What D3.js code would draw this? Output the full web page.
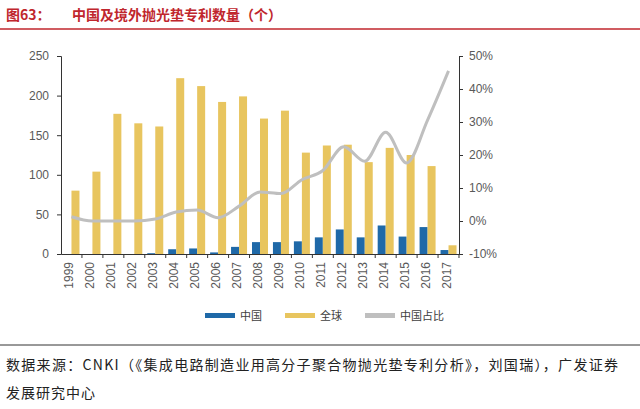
<!DOCTYPE html>
<html lang="zh">
<head>
<meta charset="UTF-8">
<style>
  body { margin: 0; background: #fff; font-family: "Liberation Sans", "Noto Sans CJK SC", sans-serif; }
  .axis text { fill: #595959; font-size: 12px; }
  .axis path, .axis line { stroke: #333; }
</style>
</head>
<body>
<script src="https://d3js.org/d3.v7.min.js"></script>
<script>
const years = ["1999","2000","2001","2002","2003","2004","2005","2006","2007","2008","2009","2010","2011","2012","2013","2014","2015","2016","2017"];
const china = [0,0,0,0,1,6,7,2,9,15,15,16,21,31,21,36,22,34,5];
const global = [80,104,177,165,161,222,212,192,199,171,181,128,137,138,116,134,125,111,11];
const ratio = [1.3,0,0,0,0.6,2.7,3.3,1,4.5,8.8,8.3,12.5,15.3,22.5,18.1,26.9,17.6,30.6,45.5];
const leftTicks = [0,50,100,150,200,250];
const rightTicks = [-10,0,10,20,30,40,50];

const W = 640, H = 409;
const svg = d3.select("body").append("svg").attr("width", W).attr("height", H);
const cjk = '"Noto Sans CJK SC", sans-serif';

// title
svg.append("text").attr("x", 6).attr("y", 20).attr("font-family", cjk)
  .attr("font-size", 14).attr("font-weight", "bold").attr("fill", "#c0262d").text("图63：");
svg.append("text").attr("x", 72).attr("y", 20).attr("font-family", cjk)
  .attr("font-size", 14).attr("font-weight", "bold").attr("fill", "#c0262d").text("中国及境外抛光垫专利数量（个）");
svg.append("line").attr("x1", 0).attr("x2", W).attr("y1", 29).attr("y2", 29)
  .attr("stroke", "#c0262d").attr("stroke-width", 1.5);

const x0 = 61, x1 = 459, yTop = 56, yBot = 254;
const x = d3.scaleBand().domain(years).range([x0, x1]);
const y = d3.scaleLinear().domain([0, 250]).range([yBot, yTop]);
const y2 = d3.scaleLinear().domain([-10, 50]).range([yBot, yTop]);

svg.append("g").attr("class", "axis").attr("transform", `translate(${x0},0)`)
  .call(d3.axisLeft(y).tickValues(leftTicks).tickSize(4).tickPadding(8));
svg.append("g").attr("class", "axis").attr("transform", `translate(${x1},0)`)
  .call(d3.axisRight(y2).tickValues(rightTicks).tickSize(4).tickPadding(6).tickFormat(d => d + "%"));
const xa = svg.append("g").attr("class", "axis").attr("transform", `translate(0,${yBot})`)
  .call(d3.axisBottom(x).tickSize(0).tickSizeOuter(0));
xa.selectAll("text").attr("transform", "rotate(-90)").attr("text-anchor", "end")
  .attr("dx", "-4").attr("dy", "-0.1em").attr("x", -4).attr("y", 0).style("dominant-baseline", "middle");
xa.selectAll(".tick").append("line").attr("x1", x.bandwidth()/2).attr("x2", x.bandwidth()/2).attr("y2", 4).attr("stroke", "#333");

const bw = 8;
svg.append("g").selectAll("rect").data(years).join("rect")
  .attr("x", (d) => x(d) + x.bandwidth()/2 - bw).attr("width", bw)
  .attr("y", (d, i) => y(china[i])).attr("height", (d, i) => yBot - y(china[i]))
  .attr("fill", "#1f69a8");
svg.append("g").selectAll("rect").data(years).join("rect")
  .attr("x", (d) => x(d) + x.bandwidth()/2).attr("width", bw)
  .attr("y", (d, i) => y(global[i])).attr("height", (d, i) => yBot - y(global[i]))
  .attr("fill", "#e8c55f");

svg.append("path").datum(ratio)
  .attr("d", d3.line().x((d, i) => x(years[i]) + x.bandwidth()/2).y(d => y2(d)).curve(d3.curveMonotoneX))
  .attr("fill", "none").attr("stroke", "#bfbfbf").attr("stroke-width", 3);

// legend
const lg = svg.append("g").attr("font-family", cjk).attr("font-size", 11).attr("fill", "#595959");
[["中国", "#1f69a8", 205], ["全球", "#e8c55f", 285], ["中国占比", "#bfbfbf", 365]].forEach(([t, c, lx]) => {
  lg.append("rect").attr("x", lx).attr("y", 313).attr("width", 30).attr("height", 5).attr("fill", c);
  lg.append("text").attr("x", lx + 35).attr("y", 320).attr("fill", "#404040").text(t);
});

// source
svg.append("line").attr("x1", 0).attr("x2", W).attr("y1", 345).attr("y2", 345)
  .attr("stroke", "#333").attr("stroke-width", 1);
svg.append("text").attr("x", 6).attr("y", 370).attr("font-family", cjk).attr("font-size", 14).attr("fill", "#222")
  .attr("textLength", 612).attr("lengthAdjust", "spacing")
  .text("数据来源：CNKI（《集成电路制造业用高分子聚合物抛光垫专利分析》，刘国瑞），广发证券");
svg.append("text").attr("x", 6).attr("y", 398).attr("font-family", cjk).attr("font-size", 14).attr("fill", "#222")
  .attr("letter-spacing", 1).text("发展研究中心");
</script>
</body>
</html>
